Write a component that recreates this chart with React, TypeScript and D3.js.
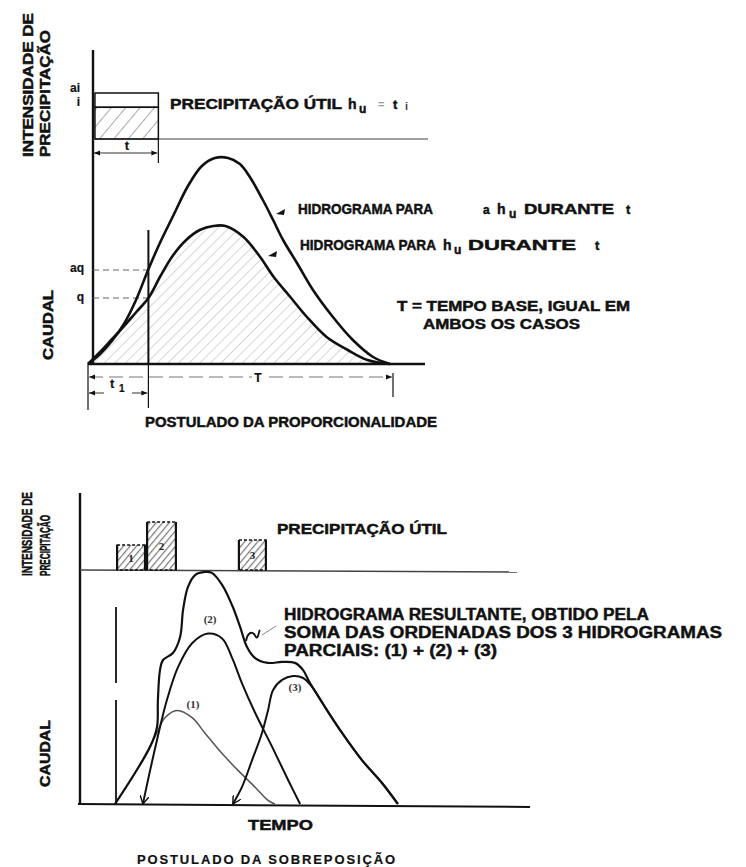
import React from "react";
import * as d3 from "d3";

// ---------- TOP CHART: POSTULADO DA PROPORCIONALIDADE ----------
// hydrograph for h_u during t (time units 0..T, discharge units)
const unitTime = [0, 0.4, 0.8, 1.2, 1.6, 2.0, 2.4, 2.8, 3.25, 3.7, 4.15, 4.55, 5.15, 5.7, 6.15, 6.7, 7.25, 7.9, 8.6, 9.25, 10];
const unitQ = [0, 0.6, 1.25, 1.9, 2.6, 3.3, 4.4, 5.4, 6.2, 6.7, 6.9, 6.9, 6.35, 5.35, 4.35, 3.35, 2.35, 1.35, 0.7, 0.2, 0];
// hydrograph for a·h_u during t
const bigTime = [0, 0.4, 0.79, 1.19, 1.59, 1.99, 2.38, 2.85, 3.31, 3.77, 4.2, 4.64, 5.03, 5.36, 5.79, 6.13, 6.46, 6.92, 7.45, 8.11, 8.77, 9.44, 10];
const bigQ = [0, 0.5, 1.15, 2.0, 3.2, 4.7, 6.05, 7.5, 8.9, 9.9, 10.3, 10.3, 10.0, 9.35, 8.2, 7.2, 6.2, 5.05, 3.7, 2.35, 1.2, 0.35, 0];
const precipStart = 0.23;
const precipEnd = 2.33;
const precipI = 1;
const precipAI = 1.45;
const t1Value = 2.0;
const baseTimeT = 10;
const qLevel = 3.3;
const aqLevel = 4.7;

// ---------- BOTTOM CHART: POSTULADO DA SOBREPOSIÇÃO ----------
const barStarts = [0.07, 1.07, 4.13];
const barEnds = [1.0, 2.03, 5.03];
const barHeights = [2.5, 4.8, 3.0];
const barLabels = ["1", "2", "3"];

const h1Time = [0, 0.67, 1.33, 1.67, 2.07, 2.57, 3.0, 3.57, 4.1, 4.67, 5.1, 5.33];
const h1Q = [0, 1.3, 2.8, 3.6, 3.9, 3.6, 2.95, 2.1, 1.4, 0.7, 0.15, 0];
const h2Time = [0.93, 1.1, 1.4, 1.73, 2.1, 2.57, 3.1, 3.57, 3.9, 4.23, 4.67, 5.23, 5.77, 6.17];
const h2Q = [0, 1.0, 2.67, 4.33, 5.7, 6.7, 7.1, 6.9, 6.1, 5.04, 3.8, 2.4, 1.0, 0];
const h3Time = [3.93, 4.23, 4.57, 4.9, 5.1, 5.27, 5.57, 5.93, 6.27, 6.57, 7.0, 7.57, 8.23, 8.9, 9.43];
const h3Q = [0, 0.7, 1.83, 2.96, 3.9, 4.75, 5.17, 5.33, 5.25, 4.88, 4.04, 2.96, 1.83, 0.875, 0];
const resTime = [0, 0.67, 1.17, 1.4, 1.43, 1.5, 1.6, 1.93, 2.17, 2.27, 2.43, 2.67, 3.0, 3.23, 3.57, 3.9, 4.17, 4.4, 4.67, 5.1, 5.57, 6.0, 6.27, 6.5, 7.0, 7.57, 8.23, 8.9, 9.43];
const resQ = [0, 1.3, 2.38, 3.2, 4.33, 5.58, 6.0, 6.29, 6.96, 8.1, 9.04, 9.54, 9.67, 9.63, 9.13, 8.29, 7.38, 6.54, 6.08, 5.88, 5.92, 5.88, 5.58, 5.04, 4.04, 2.96, 1.83, 0.875, 0];

const FONT = "'Liberation Sans', Arial, sans-serif";
const SERIF = "'Liberation Serif', 'DejaVu Serif', serif";

const zip = (a: number[], b: number[]) => a.map((v, i) => [v, b[i]] as [number, number]);

export default function App() {
  // scales, top
  const xT = d3.scaleLinear().domain([0, 10]).range([88, 390]);
  const yT = d3.scaleLinear().domain([0, 10]).range([364, 164]);
  const yPT = d3.scaleLinear().domain([0, precipAI]).range([139, 93]);
  // scales, bottom
  const xB = d3.scaleLinear().domain([0, 10]).range([115, 415]);
  const yB = d3.scaleLinear().domain([0, 10]).range([804, 564]);
  const yPB = d3.scaleLinear().domain([0, 5]).range([570, 520]);

  const lineT = d3.line<[number, number]>().x(d => xT(d[0])).y(d => yT(d[1])).curve(d3.curveCatmullRom.alpha(0.5));
  const areaT = d3.area<[number, number]>().x(d => xT(d[0])).y0(yT(0)).y1(d => yT(d[1])).curve(d3.curveCatmullRom.alpha(0.5));
  const lineB = d3.line<[number, number]>().x(d => xB(d[0])).y(d => yB(d[1])).curve(d3.curveCatmullRom.alpha(0.5));

  const unitPts = zip(unitTime, unitQ);
  const bigPts = zip(bigTime, bigQ);

  const tx = (x: number, y: number, s: string, o: any = {}) => (
    <text x={x} y={y} fontFamily={FONT} fontWeight={700} fontSize={o.size || 14} fill={o.fill || "#111"}
      stroke={o.fill || "#111"} strokeWidth={o.sw ?? 0.45}
      textAnchor={o.anchor || "start"} textLength={o.len} lengthAdjust={o.adj || "spacingAndGlyphs"}
      letterSpacing={o.ls}>{s}</text>
  );
  const rot = (x: number, y: number, s: string, len: number, size = 15) => (
    <text transform={`translate(${x},${y}) rotate(-90)`} fontFamily={FONT} fontWeight={700} fontSize={size}
      fill="#111" stroke="#111" strokeWidth={0.5} textLength={len} lengthAdjust="spacingAndGlyphs">{s}</text>
  );

  const xt1 = xT(t1Value);
  const xTend = xT(baseTimeT);

  return (
    <svg width={746} height={867} style={{ position: "absolute", left: 0, top: 0, background: "#fff" }}>
      <defs>
        <pattern id="hPrecip" width="11" height="11" patternUnits="userSpaceOnUse" patternTransform="rotate(40)">
          <line x1="0" y1="0" x2="0" y2="11" stroke="#555" strokeWidth="1" />
        </pattern>
        <pattern id="hFine" width="7.5" height="7.5" patternUnits="userSpaceOnUse" patternTransform="rotate(45)">
          <line x1="0" y1="0" x2="0" y2="7.5" stroke="#9a9a9a" strokeWidth="0.8" />
        </pattern>
        <pattern id="hBar" width="5" height="5" patternUnits="userSpaceOnUse" patternTransform="rotate(40)">
          <rect x="0" y="0" width="1.2" height="5" fill="#777" />
        </pattern>
        <marker id="arr" viewBox="0 0 10 10" refX="10" refY="5" markerWidth="9" markerHeight="6" orient="auto-start-reverse" markerUnits="userSpaceOnUse">
          <path d="M0,1 L10,5 L0,9 z" fill="#111" />
        </marker>
        <marker id="arrOpen" viewBox="0 0 10 10" refX="9" refY="5" markerWidth="9" markerHeight="9" orient="auto-start-reverse" markerUnits="userSpaceOnUse">
          <path d="M0,0 L9,5 L0,10" fill="none" stroke="#111" strokeWidth="1.6" />
        </marker>
      </defs>

      {/* ================= TOP ================= */}
      {rot(33, 157, "INTENSIDADE DE", 144, 15)}
      {rot(50, 157, "PRECIPITAÇÃO", 127, 15)}
      {rot(53, 360, "CAUDAL", 70, 15)}

      {/* axis */}
      <line x1={93} y1={50} x2={93} y2={yT(0)} stroke="#111" strokeWidth={2.4} />
      {/* precip base line */}
      <line x1={93} y1={yPT(0)} x2={428} y2={yPT(0)} stroke="#444" strokeWidth={1.2} />
      {/* precip block */}
      <rect x={xT(precipStart)} y={yPT(precipAI)} width={xT(precipEnd) - xT(precipStart)} height={yPT(precipI) - yPT(precipAI)} fill="#fff" stroke="#111" strokeWidth={1.5} />
      <rect x={xT(precipStart)} y={yPT(precipI)} width={xT(precipEnd) - xT(precipStart)} height={yPT(0) - yPT(precipI)} fill="url(#hPrecip)" stroke="#111" strokeWidth={1.5} />
      {tx(80, 92, "ai", { size: 12, anchor: "end", sw: 0.2 })}
      {tx(80, 106, "i", { size: 12, anchor: "end", sw: 0.2 })}
      {/* t dimension */}
      <line x1={xT(precipEnd)} y1={yPT(0)} x2={xT(precipEnd)} y2={163} stroke="#111" strokeWidth={1.2} />
      <line x1={94} y1={153} x2={xT(precipEnd) - 1} y2={153} stroke="#333" strokeWidth={1.1} markerStart="url(#arr)" markerEnd="url(#arr)" />
      <rect x={120} y={140} width={14} height={11} fill="#fff" />
      {tx(127, 150, "t", { size: 13, anchor: "middle", sw: 0.2 })}

      {tx(170, 109, "PRECIPITAÇÃO ÚTIL", { size: 14, len: 172 })}
      {tx(348, 109, "h", { size: 14 })}
      {tx(359, 113, "u", { size: 12 })}
      {tx(378, 108, "=", { size: 11, fill: "#999", sw: 0 })}
      {tx(393, 109, "t", { size: 13 })}
      {tx(405, 110, "i", { size: 11, fill: "#444", sw: 0 })}

      {/* hydrographs */}
      <path d={areaT(unitPts) || ""} fill="url(#hFine)" />
      <line x1={xt1} y1={230} x2={xt1} y2={yT(0)} stroke="#111" strokeWidth={2} />
      <line x1={93} y1={yT(aqLevel)} x2={xt1} y2={yT(aqLevel)} stroke="#666" strokeWidth={1} strokeDasharray="6,4" />
      <line x1={93} y1={yT(qLevel)} x2={xt1} y2={yT(qLevel)} stroke="#666" strokeWidth={1} strokeDasharray="6,4" />
      {tx(84, 272, "aq", { size: 12, anchor: "end", sw: 0.2 })}
      {tx(84, 301, "q", { size: 12, anchor: "end", sw: 0.2 })}
      <path d={lineT(bigPts) || ""} fill="none" stroke="#111" strokeWidth={2.6} />
      <path d={lineT(unitPts) || ""} fill="none" stroke="#111" strokeWidth={2.6} />
      <line x1={88} y1={yT(0)} x2={425} y2={yT(0)} stroke="#111" strokeWidth={2.4} />

      {/* pointer triangles */}
      <path d="M276,214 L285,209 L284,215 z" fill="#111" />
      <path d="M268,256 L277,251 L276,257 z" fill="#111" />

      {tx(298, 214, "HIDROGRAMA PARA", { size: 14, len: 135 })}
      {tx(483, 214, "a", { size: 12 })}
      {tx(497, 214, "h", { size: 14 })}
      {tx(509, 218, "u", { size: 12 })}
      {tx(524, 214, "DURANTE", { size: 14, len: 90 })}
      {tx(626, 214, "t", { size: 13 })}

      {tx(300, 250, "HIDROGRAMA PARA", { size: 14, len: 136 })}
      {tx(443, 250, "h", { size: 14 })}
      {tx(454, 254, "u", { size: 12 })}
      {tx(468, 250, "DURANTE", { size: 14, len: 108 })}
      {tx(595, 250, "t", { size: 13 })}

      {tx(397, 311, "T = TEMPO BASE, IGUAL EM", { size: 14, len: 233 })}
      {tx(423, 329, "AMBOS OS CASOS", { size: 14, len: 157 })}

      {/* T and t1 dimensions */}
      <line x1={88} y1={yT(0)} x2={88} y2={410} stroke="#111" strokeWidth={1.2} />
      <line x1={xt1} y1={yT(0)} x2={xt1} y2={408} stroke="#111" strokeWidth={1.2} />
      <line x1={xTend + 3} y1={373} x2={xTend + 3} y2={397} stroke="#111" strokeWidth={1.2} />
      <line x1={89} y1={377} x2={xTend + 2} y2={377} stroke="#777" strokeWidth={1} strokeDasharray="14,6" markerStart="url(#arr)" markerEnd="url(#arr)" />
      <rect x={252} y={369} width={12} height={14} fill="#fff" />
      {tx(258, 382, "T", { size: 12, anchor: "middle", sw: 0.2 })}
      <line x1={89} y1={393} x2={xt1 - 1} y2={393} stroke="#333" strokeWidth={1} markerStart="url(#arr)" markerEnd="url(#arr)" />
      <rect x={104} y={380} width={28} height={16} fill="#fff" />
      {tx(110, 388, "t", { size: 13, sw: 0.2 })}
      {tx(119, 392, "1", { size: 10, sw: 0.2 })}

      {tx(145, 427, "POSTULADO DA PROPORCIONALIDADE", { size: 14, len: 292 })}

      {/* ================= BOTTOM ================= */}
      {rot(32, 576, "INTENSIDADE DE", 84, 14)}
      {rot(50, 576, "PRECIPITAÇÃO", 61, 14)}
      {rot(50, 787, "CAUDAL", 67, 14)}

      <line x1={80} y1={493} x2={80} y2={yB(0)} stroke="#111" strokeWidth={2.4} />
      <line x1={80} y1={yPB(0)} x2={517} y2={yPB(0) + 2} stroke="#444" strokeWidth={1.4} />
      {barStarts.map((s, i) => (
        <g key={"bar" + i}>
          <rect x={xB(s)} y={yPB(barHeights[i])} width={xB(barEnds[i]) - xB(s)} height={yPB(0) - yPB(barHeights[i])}
            fill="url(#hBar)" stroke="#111" strokeWidth={1.6} strokeDasharray={"3,2"} />
          <line x1={xB(s)} y1={yPB(barHeights[i])} x2={xB(s)} y2={yPB(0)} stroke="#111" strokeWidth={2.2} />
          <line x1={xB(barEnds[i])} y1={yPB(barHeights[i])} x2={xB(barEnds[i])} y2={yPB(0)} stroke="#111" strokeWidth={2.2} />
          <text x={(xB(s) + xB(barEnds[i])) / 2} y={(yPB(barHeights[i]) + yPB(0)) / 2 + 4} textAnchor="middle"
            fontFamily={SERIF} fontWeight={700} fontSize={11} fill="#222">{barLabels[i]}</text>
        </g>
      ))}
      {tx(277, 534, "PRECIPITAÇÃO ÚTIL", { size: 14, len: 170 })}

      {/* thin vertical marker */}
      <line x1={116} y1={607} x2={116} y2={683} stroke="#111" strokeWidth={1.8} />
      <line x1={116} y1={700} x2={116} y2={yB(0)} stroke="#111" strokeWidth={1.8} />

      <path d={lineB(zip(h1Time, h1Q)) || ""} fill="none" stroke="#555" strokeWidth={1.5} />
      <path d={lineB(zip(h2Time, h2Q)) || ""} fill="none" stroke="#111" strokeWidth={2} markerStart="url(#arrOpen)" />
      <path d={lineB(zip(h3Time, h3Q)) || ""} fill="none" stroke="#111" strokeWidth={2} markerStart="url(#arrOpen)" />
      <path d={lineB(zip(resTime, resQ)) || ""} fill="none" stroke="#111" strokeWidth={2.2} />
      <line x1={78} y1={yB(0)} x2={530} y2={yB(0) + 3} stroke="#111" strokeWidth={2} />

      <text x={xB(2.6)} y={yB(4.0)} textAnchor="middle" fontFamily={SERIF} fontWeight={700} fontSize={11} fill="#333">(1)</text>
      <text x={xB(3.17)} y={yB(7.55)} textAnchor="middle" fontFamily={SERIF} fontWeight={700} fontSize={11} fill="#333">(2)</text>
      <text x={xB(6.0)} y={yB(4.7)} textAnchor="middle" fontFamily={SERIF} fontWeight={700} fontSize={11} fill="#333">(3)</text>

      {/* squiggle pointer */}
      <path d="M246,641 C247,634 251,631 254,634 C256,636 256,640 258,636 C259,633 259,631 260,630" fill="none" stroke="#111" strokeWidth={1.8} />
      <line x1={262} y1={635} x2={276} y2={626} stroke="#888" strokeWidth={1} />

      {tx(284, 620, "HIDROGRAMA RESULTANTE, OBTIDO PELA", { size: 16, len: 365 })}
      {tx(284, 638, "SOMA DAS ORDENADAS DOS 3 HIDROGRAMAS", { size: 16, len: 438 })}
      {tx(284, 656, "PARCIAIS: (1) + (2) + (3)", { size: 16, len: 213 })}

      {tx(248, 830, "TEMPO", { size: 14, len: 65 })}
      {tx(137, 864, "POSTULADO DA SOBREPOSIÇÃO", { size: 13, len: 258, adj: "spacing", sw: 0.2 })}
    </svg>
  );
}
